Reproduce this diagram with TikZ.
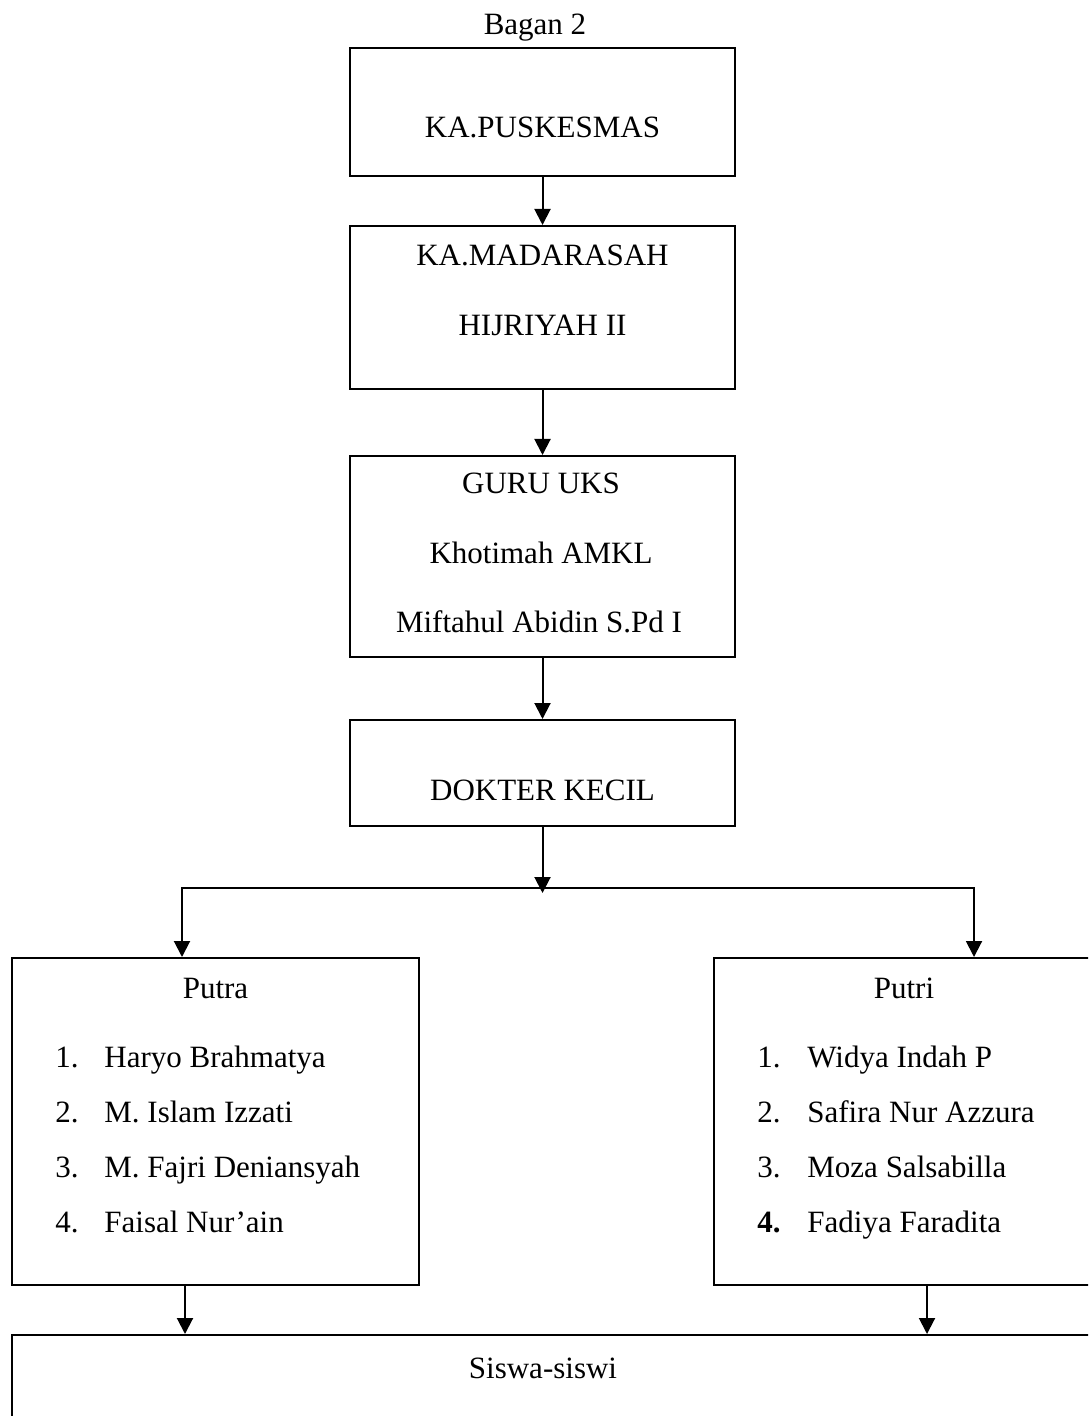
\documentclass[tikz,border=0pt]{standalone}
\usepackage{fontspec}
\setmainfont{Liberation Serif}
\usetikzlibrary{arrows.meta}
\begin{document}
\begin{tikzpicture}[x=0.5pt,y=-0.5pt,
  box/.style={draw, line width=1pt, inner sep=0pt},
  txt/.style={font=\fontsize{15.5}{18}\selectfont, inner sep=0pt, anchor=base},
  lst/.style={font=\fontsize{15.5}{18}\selectfont, inner sep=0pt, anchor=base west},
  arr/.style={line width=1pt, -{Triangle[length=8pt,width=8pt]}}]
\useasboundingbox (0,0) rectangle (1088,1416);
\clip (0,0) rectangle (1088,1416);
\fill[white] (0,0) rectangle (1088,1416);

% boxes
\node[box, minimum width=192.5pt, minimum height=64pt] (pusk) at (542.5,112) {};
\node[box, minimum width=192.5pt, minimum height=81.5pt] (madr) at (542.5,307.5) {};
\node[box, minimum width=192.5pt, minimum height=100.5pt] (guru) at (542.5,556.5) {};
\node[box, minimum width=192.5pt, minimum height=53pt] (dokter) at (542.5,773) {};
\node[box, minimum width=203.5pt, minimum height=163.5pt] (putra) at (215.5,1121.5) {};
\node[box, minimum width=190pt, minimum height=163.5pt] (putri) at (904,1121.5) {};
\node[box, minimum width=539pt, minimum height=82.5pt] (siswa) at (551,1417.5) {};

% texts
\node[txt] (title) at (535,35) {Bagan 2};
\node[txt] (t1) at (542.5,138) {KA.PUSKESMAS};
\node[txt] (t2a) at (542.5,266) {KA.MADARASAH};
\node[txt] (t2b) at (542.5,336) {HIJRIYAH II};
\node[txt] (t3a) at (541,494) {GURU UKS};
\node[txt] (t3b) at (541,563) {Khotimah AMKL};
\node[txt] (t3c) at (539,632) {Miftahul Abidin S.Pd I};
\node[txt] (t4) at (542.5,800) {DOKTER KECIL};
\node[txt] (pa) at (215.5,998) {Putra};
\node[txt] (pi) at (904,998) {Putri};
\node[txt] (ss) at (543,1378) {Siswa-siswi};

\node[lst] (pan1) at (55,1067) {1.};
\node[lst] (pan2) at (55,1122) {2.};
\node[lst] (pan3) at (55,1177) {3.};
\node[lst] (pan4) at (55,1232) {4.};
\node[lst] (pam1) at (104,1067) {Haryo Brahmatya};
\node[lst] (pam2) at (104,1122) {M. Islam Izzati};
\node[lst] (pam3) at (104,1177) {M. Fajri Deniansyah};
\node[lst] (pam4) at (104,1232) {Faisal Nur’ain};

\node[lst] (pin1) at (757,1067) {1.};
\node[lst] (pin2) at (757,1122) {2.};
\node[lst] (pin3) at (757,1177) {3.};
\node[lst] (pin4) at (757,1232) {\textbf{4.}};
\node[lst] (pim1) at (807,1067) {Widya Indah P};
\node[lst] (pim2) at (807,1122) {Safira Nur Azzura};
\node[lst] (pim3) at (807,1177) {Moza Salsabilla};
\node[lst] (pim4) at (807,1232) {Fadiya Faradita};

% connectors
\coordinate (jc) at (542.5,888);
\coordinate (jt) at (542.5,893);
\coordinate (jl) at (182,888);
\coordinate (jr) at (974,888);
\coordinate (bl) at (185,0);
\coordinate (br) at (927,0);

\draw[arr] (pusk.south) -- (madr.north);
\draw[arr] (madr.south) -- (guru.north);
\draw[arr] (guru.south) -- (dokter.north);
\draw[arr] (dokter.south) -- (jt);
\draw[arr] (jc) -| (jl |- putra.north);
\draw[arr] (jc) -| (jr |- putri.north);
\draw[arr] (bl |- putra.south) -- (bl |- siswa.north);
\draw[arr] (br |- putri.south) -- (br |- siswa.north);
\end{tikzpicture}
\end{document}
